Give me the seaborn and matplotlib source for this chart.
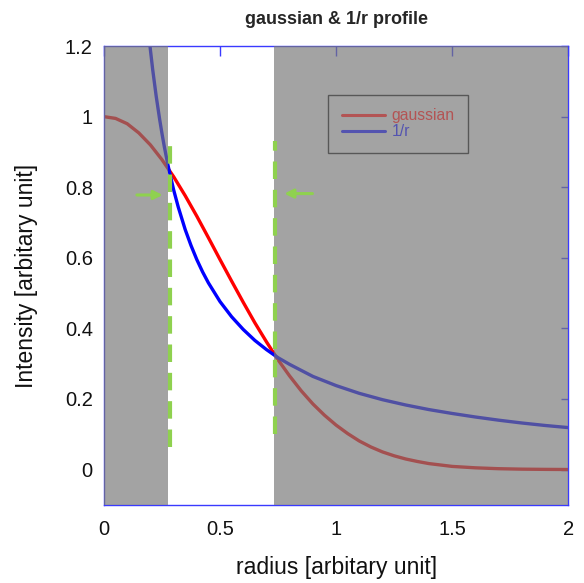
"""
Gaussian vs 1/r intensity profile with shaded exclusion zones.
"""
import numpy as np
import pandas as pd
import matplotlib.pyplot as plt
import seaborn as sns

# values
gauss_r = [0.0, 0.05, 0.1, 0.15, 0.2, 0.25, 0.3, 0.35, 0.4, 0.45, 0.5, 0.55, 0.6,
           0.65, 0.7, 0.75, 0.8, 0.85, 0.9, 0.95, 1.0, 1.05, 1.1, 1.15, 1.2, 1.25,
           1.3, 1.35, 1.4, 1.45, 1.5, 1.6, 1.7, 1.8, 1.9, 2.0]
gauss_val = [1.0, 0.995, 0.980, 0.954, 0.920, 0.878, 0.830, 0.776, 0.718, 0.657, 0.595,
             0.534, 0.474, 0.416, 0.362, 0.311, 0.265, 0.223, 0.186, 0.154, 0.126,
             0.102, 0.081, 0.064, 0.050, 0.039, 0.030, 0.023, 0.017, 0.013, 0.009,
             0.005, 0.0025, 0.0012, 0.0006, 0.0002]

inv_r = [0.18, 0.19, 0.2, 0.21, 0.225, 0.24, 0.25, 0.26, 0.275, 0.28, 0.3, 0.32, 0.35,
         0.375, 0.4, 0.425, 0.45, 0.5, 0.55, 0.6, 0.65, 0.7, 0.75, 0.8, 0.9, 1.0,
         1.1, 1.2, 1.3, 1.4, 1.5, 1.6, 1.7, 1.8, 1.9, 2.0]
inv_val = [1.322, 1.253, 1.19, 1.133, 1.058, 0.992, 0.952, 0.915, 0.865, 0.850, 0.793,
           0.744, 0.680, 0.635, 0.595, 0.560, 0.529, 0.476, 0.433, 0.397, 0.366,
           0.340, 0.317, 0.298, 0.264, 0.238, 0.216, 0.198, 0.183, 0.170, 0.159,
           0.149, 0.140, 0.132, 0.125, 0.119]

# shaded zones and the two marker positions
shade_zones = [(0.0, 0.276), (0.733, 2.0)]
marker_r = [0.284, 0.737]
marker_span = [(0.065, 0.926), (0.10, 0.93)]

x_ticks = [0, 0.5, 1, 1.5, 2]
y_ticks = [0, 0.2, 0.4, 0.6, 0.8, 1, 1.2]


def make_plot():
    sns.set_style("white")
    plt.rcParams['font.family'] = ['Liberation Sans', 'DejaVu Sans']

    df_g = pd.DataFrame({'radius': gauss_r, 'intensity': gauss_val})
    df_i = pd.DataFrame({'radius': inv_r, 'intensity': inv_val})

    fig = plt.figure(figsize=(5.84, 5.83), dpi=100)
    ax = fig.add_axes([0.178, 0.134, 0.795, 0.787])

    sns.lineplot(data=df_g, x='radius', y='intensity', color='#ff0000', lw=2.4,
                 ax=ax, zorder=2, sort=False)
    sns.lineplot(data=df_i, x='radius', y='intensity', color='#0000ff', lw=2.4,
                 ax=ax, zorder=2, sort=False)

    # translucent gray over the curves outside the window
    for lo, hi in shade_zones:
        ax.axvspan(lo, hi, color='#777777', alpha=0.675, lw=0, zorder=3)

    green = '#8fd14f'
    for r, (y0, y1) in zip(marker_r, marker_span):
        ax.plot([r, r], [y0, y1], color=green, lw=3, dashes=(4.2, 2.6), zorder=4)

    ax.annotate('', xy=(0.265, 0.778), xytext=(0.13, 0.778),
                arrowprops=dict(arrowstyle='-|>', color=green, lw=2.2,
                                mutation_scale=13), zorder=5)
    ax.annotate('', xy=(0.765, 0.782), xytext=(0.91, 0.782),
                arrowprops=dict(arrowstyle='-|>', color=green, lw=2.2,
                                mutation_scale=13), zorder=5)

    # legend drawn with the muted colours seen in the reference
    h1, = ax.plot([], [], color='#b35454', lw=2.2, label='gaussian')
    h2, = ax.plot([], [], color='#5454b0', lw=2.2, label='1/r')
    leg = ax.legend(handles=[h1, h2], loc='upper left', bbox_to_anchor=(0.483, 0.893),
                    frameon=True, fancybox=False, fontsize=11.3, handlelength=2.8,
                    borderpad=0.85, labelspacing=0.05, handletextpad=0.4,
                    borderaxespad=0)
    leg.get_frame().set_facecolor('none')
    leg.get_frame().set_edgecolor('#444444')
    leg.get_frame().set_linewidth(1.0)
    leg.texts[0].set_color('#b35454')
    leg.texts[1].set_color('#5454b0')
    leg.set_zorder(6)

    ax.set_xlim(0, 2)
    ax.set_ylim(-0.1, 1.2)
    ax.set_xticks(x_ticks)
    ax.set_xticklabels(['0', '0.5', '1', '1.5', '2'])
    ax.set_yticks(y_ticks)
    ax.set_yticklabels(['0', '0.2', '0.4', '0.6', '0.8', '1', '1.2'])

    for s in ax.spines.values():
        s.set_color('#3a3aff')
        s.set_linewidth(1.0)
    ax.tick_params(axis='both', direction='in', colors='#3a3aff', labelcolor='#111111',
                   labelsize=14.5, top=True, right=True, width=1)
    ax.tick_params(axis='x', length=7, pad=11)
    ax.tick_params(axis='y', length=5, pad=8)

    ax.set_xlabel('radius [arbitary unit]', fontsize=16.5, labelpad=12, color='#111111')
    ax.set_ylabel('Intensity [arbitary unit]', fontsize=16.5, labelpad=19, color='#111111')
    ax.set_title('gaussian & 1/r profile', fontsize=13, fontweight='bold', pad=16)

    plt.savefig('out.png', dpi=100)
    plt.close()


if __name__ == "__main__":
    make_plot()
